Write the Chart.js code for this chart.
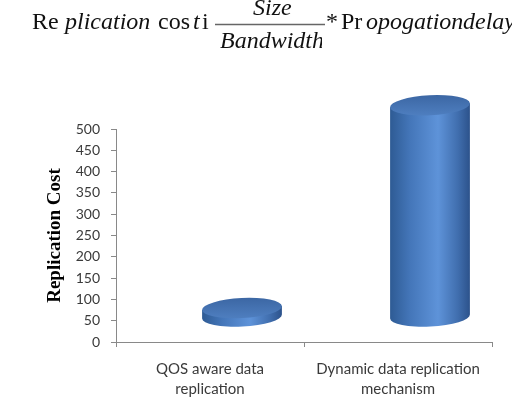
<!DOCTYPE html>
<html>
<head>
<meta charset="utf-8">
<script src="https://cdn.jsdelivr.net/npm/chart.js@4"></script>
<style>
  html, body { margin: 0; padding: 0; background: #fff; }
  #wrap { position: relative; width: 512px; height: 404px; overflow: hidden; }
  canvas { position: absolute; left: 0; top: 0; }
</style>
</head>
<body>
<div id="wrap"><canvas id="chart" width="512" height="404"></canvas></div>
<script>
// datos del gráfico
const categories = [['QOS aware data', 'replication'], ['Dynamic data replication', 'mechanism']];
const replicationCost = [21, 497];
const yTicks = { min: 0, max: 500, step: 50 };

const axisColor = '#898989';
const textColor = '#3a3a3a';

// Fórmula de arriba, dibujada como texto en el canvas
const formulaPlugin = {
    id: 'formula',
    afterDraw(chart) {
        const ctx = chart.ctx;
        ctx.save();
        ctx.fillStyle = '#111';
        ctx.textBaseline = 'alphabetic';
        const up = '24px "Liberation Serif"';
        const it = 'italic 24px "Liberation Serif"';
        const parts = [
            ['Re', up, 32, 29], ['plication', it, 65, 29], ['cos', up, 158, 29],
            ['t', it, 193, 29], ['i', up, 202, 29],
            ['Size', it, 253, 15],
            ['*', up, 326, 29], ['Pr', up, 341, 29], ['opogation', it, 366, 29], ['delay', it, 463, 29]
        ];
        parts.forEach(([t, f, x, y]) => { ctx.font = f; ctx.fillText(t, x, y); });
        // denominador cortado a la derecha como en la imagen
        ctx.save();
        ctx.beginPath();
        ctx.rect(210, 26, 112, 30);
        ctx.clip();
        ctx.font = it;
        ctx.fillText('Bandwidth', 220, 48);
        ctx.restore();
        ctx.strokeStyle = '#666';
        ctx.lineWidth = 1.3;
        ctx.beginPath();
        ctx.moveTo(215, 24.5);
        ctx.lineTo(325, 24.5);
        ctx.stroke();
        ctx.restore();
    }
};

// Cilindros 3D encima de las barras (usa la posición de cada barra)
const cylinderPlugin = {
    id: 'cylinders',
    afterDatasetsDraw(chart) {
        const ctx = chart.ctx;
        const meta = chart.getDatasetMeta(0);
        const dx = 32, dy = -25, ry = 10, tilt = -0.05;
        meta.data.forEach(bar => {
            const rx = bar.width / 2;
            const cx = bar.x + dx;
            const ty = bar.y + dy;
            const by = bar.base + dy;
            const ex = rx * Math.cos(tilt), ey = rx * Math.sin(tilt);

            const g = ctx.createLinearGradient(cx - rx, 0, cx + rx, 0);
            g.addColorStop(0, '#2e5b94');
            g.addColorStop(0.25, '#4476b9');
            g.addColorStop(0.6, '#5e93d9');
            g.addColorStop(0.85, '#406eae');
            g.addColorStop(1, '#2c528b');

            ctx.save();
            ctx.fillStyle = g;
            ctx.beginPath();
            ctx.moveTo(cx - ex, ty - ey);
            ctx.lineTo(cx - ex, by - ey);
            ctx.ellipse(cx, by, rx, ry, tilt, Math.PI, 0, true);
            ctx.lineTo(cx + ex, ty + ey);
            ctx.closePath();
            ctx.fill();

            const gt = ctx.createLinearGradient(0, ty - ry, 0, ty + ry);
            gt.addColorStop(0, '#3c67a4');
            gt.addColorStop(1, '#4e7ebf');
            ctx.fillStyle = gt;
            ctx.beginPath();
            ctx.ellipse(cx, ty, rx, ry, tilt, 0, Math.PI * 2);
            ctx.fill();
            ctx.restore();
        });
    }
};

new Chart(document.getElementById('chart'), {
    type: 'bar',
    data: {
        labels: categories,
        datasets: [{
            data: replicationCost,
            backgroundColor: 'rgba(0,0,0,0)',
            categoryPercentage: 1,
            barPercentage: 0.425
        }]
    },
    options: {
        responsive: false,
        animation: false,
        layout: { padding: { left: 44, top: 129, right: 20, bottom: 0 } },
        plugins: { legend: { display: false }, tooltip: { enabled: false } },
        scales: {
            y: {
                min: yTicks.min,
                max: yTicks.max,
                ticks: { stepSize: yTicks.step, padding: 11, color: textColor, font: { family: 'Lato', size: 14 } },
                grid: { drawOnChartArea: false, tickLength: 5, color: axisColor },
                border: { color: axisColor },
                title: {
                    display: true, text: 'Replication Cost', color: '#000', padding: 0,
                    font: { family: 'Liberation Serif', weight: 'bold', size: 19 }
                },
                afterFit(scale) { scale.width = 72; }
            },
            x: {
                ticks: { padding: 12, color: textColor, font: { family: 'Lato', size: 15, lineHeight: 1.35 } },
                grid: { drawOnChartArea: false, tickLength: 5, color: axisColor },
                border: { color: axisColor },
                afterFit(scale) { scale.height = 62; }
            }
        }
    },
    plugins: [cylinderPlugin, formulaPlugin]
});
</script>
</body>
</html>
